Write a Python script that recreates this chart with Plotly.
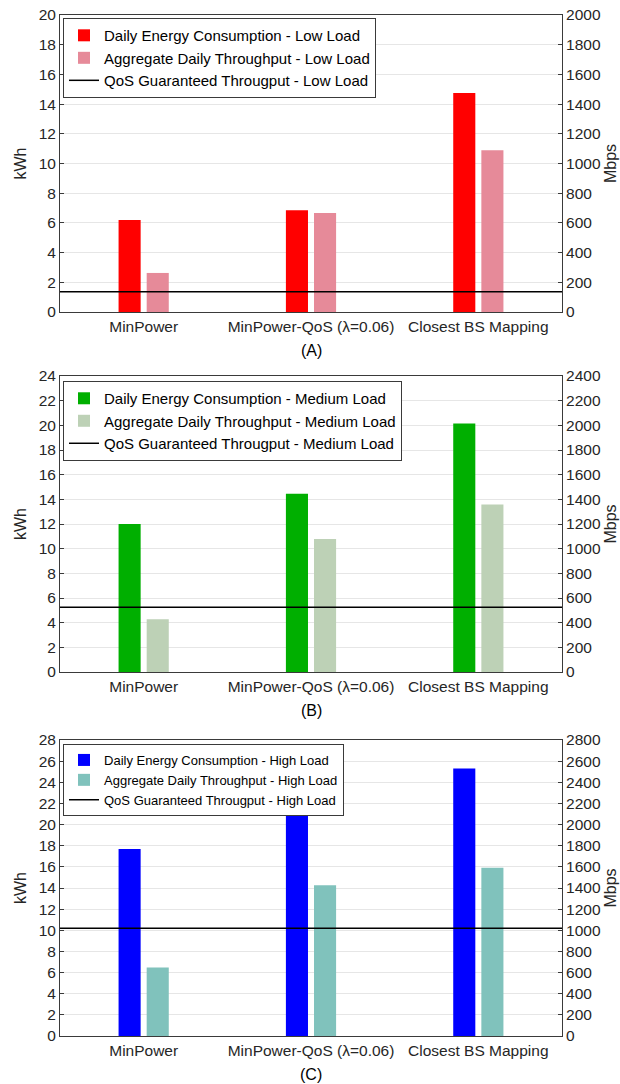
import plotly.graph_objects as go

categories = ["MinPower", "MinPower-QoS (λ=0.06)", "Closest BS Mapping"]

energy_low = [6.2, 6.85, 14.75]
throughput_low = [263, 667, 1090]
qos_low = 137

energy_med = [12.0, 14.45, 20.15]
throughput_med = [428, 1079, 1359]
qos_med = 526

energy_high = [17.68, 22.4, 25.3]
throughput_high = [647, 1427, 1591]
qos_high = 1020

panel_labels = ["(A)", "(B)", "(C)"]
loads = ["Low Load", "Medium Load", "High Load"]
energy_colors = ["#FF0000", "#00AF00", "#0000FF"]
thr_colors = ["#E68A99", "#BDD1B6", "#80C2BC"]
left_ranges = [20, 24, 28]
right_ranges = [2000, 2400, 2800]
legend_font = [15, 15, 13]

energies = [energy_low, energy_med, energy_high]
throughputs = [throughput_low, throughput_med, throughput_high]
qos_vals = [qos_low, qos_med, qos_high]

FONT = "Liberation Sans, Arial, sans-serif"
domains = [[0.7091, 1.0], [0.3565, 0.6464], [0.0, 0.2899]]
legend_tops = [0.997, 0.6415, 0.286]

fig = go.Figure()
layout = dict(
    width=620, height=1084,
    margin=dict(l=60, r=58, t=15, b=48, autoexpand=False),
    paper_bgcolor="white", plot_bgcolor="white",
    font=dict(family=FONT, size=15, color="#262626"),
    barmode="overlay",
    shapes=[], annotations=[],
)

bar_w = 0.132
for i in range(3):
    xa = "x" if i == 0 else f"x{i+1}"
    yl = f"y{2*i+1}" if i > 0 else "y"
    yr = f"y{2*i+2}"
    leg = "legend" if i == 0 else f"legend{i+1}"

    fig.add_trace(go.Bar(
        x=categories, y=energies[i], xaxis=xa, yaxis=yl,
        name=f"Daily Energy Consumption - {loads[i]}",
        marker=dict(color=energy_colors[i], line=dict(width=0)),
        width=bar_w, offset=-0.15, legend=leg,
    ))
    fig.add_trace(go.Bar(
        x=categories, y=throughputs[i], xaxis=xa, yaxis=yr,
        name=f"Aggregate Daily Throughput - {loads[i]}",
        marker=dict(color=thr_colors[i], line=dict(width=0)),
        width=bar_w, offset=0.018, legend=leg,
    ))
    fig.add_trace(go.Scatter(
        x=[None], y=[None], xaxis=xa, yaxis=yr, mode="lines",
        line=dict(color="black", width=1.5),
        name=f"QoS Guaranteed Througput - {loads[i]}", legend=leg,
    ))
    layout["shapes"].append(dict(
        type="line", xref=f"{xa} domain", yref=yr,
        x0=0, x1=1, y0=qos_vals[i], y1=qos_vals[i],
        line=dict(color="black", width=1.5), layer="above",
    ))

    xkey = "xaxis" if i == 0 else f"xaxis{i+1}"
    ylkey = "yaxis" if i == 0 else f"yaxis{2*i+1}"
    yrkey = f"yaxis{2*i+2}"
    layout[xkey] = dict(
        domain=[0, 1], anchor=yl, type="category", range=[-0.5, 2.5],
        showline=True, linecolor="#3a3a3a", linewidth=1, mirror=True,
        ticks="", showgrid=False, tickfont=dict(size=15.5, color="#262626"),
        fixedrange=True, automargin=False,
    )
    layout[ylkey] = dict(
        domain=domains[i], anchor=xa, range=[0, left_ranges[i]], dtick=2,
        showgrid=True, gridcolor="#E6E6E6", gridwidth=1,
        showline=True, linecolor="#3a3a3a", linewidth=1,
        ticks="inside", ticklen=4, tickcolor="#3a3a3a",
        zeroline=False, tickfont=dict(size=15.5, color="#262626"),
        automargin=False,
        title=dict(text="kWh", font=dict(size=16, color="#262626"), standoff=8),
    )
    layout[yrkey] = dict(
        overlaying=yl, anchor=xa, side="right", range=[0, right_ranges[i]], dtick=200,
        showgrid=False, showline=True, linecolor="#3a3a3a", linewidth=1,
        ticks="inside", ticklen=4, tickcolor="#3a3a3a",
        zeroline=False, tickfont=dict(size=15.5, color="#262626"),
        automargin=False,
        title=dict(text="Mbps", font=dict(size=16, color="#262626"), standoff=4),
    )
    lg = dict(
        x=0.006, y=legend_tops[i], xanchor="left", yanchor="top",
        xref="paper", yref="paper",
        bgcolor="white", bordercolor="#3a3a3a", borderwidth=1,
        font=dict(size=legend_font[i], color="black", family=FONT),
        tracegroupgap=0, itemwidth=30,
    )
    layout[leg] = lg
    layout["annotations"].append(dict(
        text=panel_labels[i], xref=f"{xa} domain", yref=f"{yl} domain",
        x=0.5, y=0, yshift=-38, showarrow=False, yanchor="middle",
        font=dict(size=16, color="black"),
    ))

fig.update_layout(**layout)
fig.update_layout(showlegend=True)
fig.write_html("out.html", config={"displayModeBar": False},
               post_script="document.body.style.margin='0px';")
